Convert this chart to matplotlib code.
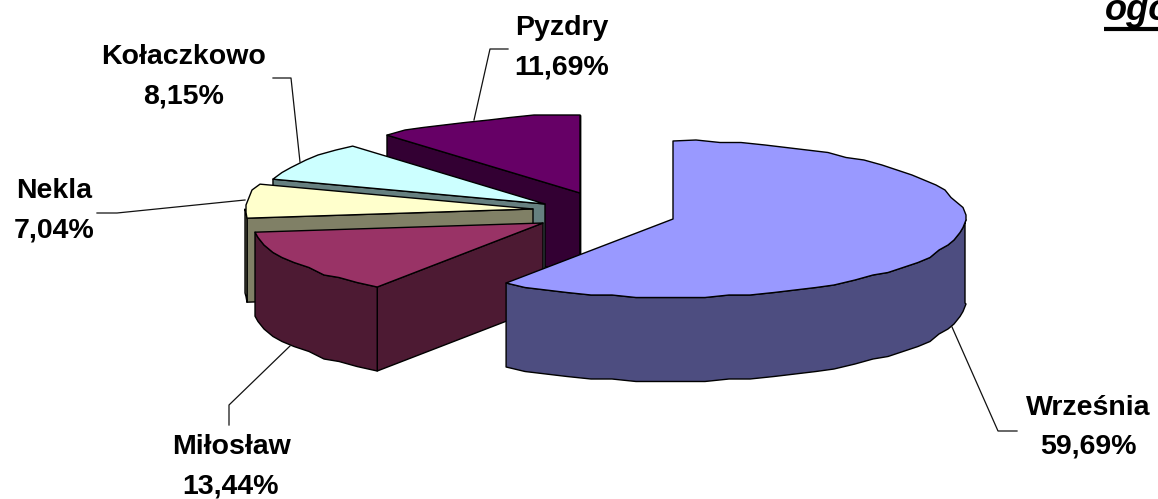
import numpy as np
import matplotlib
matplotlib.use("Agg")
import matplotlib.pyplot as plt
from matplotlib.patches import Polygon

categories = ["Września", "Miłosław", "Nekla", "Kołaczkowo", "Pyzdry"]
shares = [59.69, 13.44, 7.04, 8.15, 11.69]
value_labels = ["59,69%", "13,44%", "7,04%", "8,15%", "11,69%"]

# Styles / layout (pixel coordinates)
top_colors = ["#9999FF", "#993366", "#FFFFCC", "#CCFFFF", "#660066"]
side_colors = ["#4D4D80", "#4D1A33", "#808066", "#668080", "#330033"]
centers = [(673, 219), (543, 223), (533, 209), (545, 204), (580, 193)]
radii_x = [292, 290, 288, 287, 288]
RY, DEPTH = 78, 84
label_pos = [(1088, 408), (231, 447), (54, 191), (184, 57), (562, 28)]
leaders = [
    [(952, 327), (998, 431), (1017, 431)],
    [(290, 346), (229, 405), (229, 425)],
    [(245, 200), (117, 213), (97, 213)],
    [(300, 162), (291, 78), (273, 78)],
    [(474, 120), (490, 49), (508, 49)],
]
LINE_GAP = 39

fig = plt.figure(figsize=(11.58, 4.99), dpi=100, facecolor="white")
ax = fig.add_axes([0, 0, 1, 1])
ax.set_xlim(0, 1158)
ax.set_ylim(499, 0)
ax.axis("off")


def rim_point(cx, cy, rx, a):
    t = np.radians(a)
    return np.array([cx + rx * np.sin(t), cy - RY * np.cos(t)])


def rim(cx, cy, rx, a0, a1):
    """Coarse rim of a slice, snapped to a grid like the low-res original."""
    n = max(2, int((a1 - a0) / 4.5))
    ang = np.linspace(a0, a1, n + 1)
    pts = np.array([rim_point(cx, cy, rx, a) for a in ang])
    pts[1:-1, 0] = np.round(pts[1:-1, 0] / 3) * 3
    pts[1:-1, 1] = np.round(pts[1:-1, 1] / 2.5) * 2.5
    return ang, pts


edges = np.cumsum([0] + shares) / sum(shares) * 360
down = np.array([0, DEPTH])
# Back to front: Pyzdry, Kołaczkowo, Nekla, Miłosław, Września
for z, i in enumerate([4, 3, 2, 1, 0]):
    a0, a1 = edges[i], edges[i + 1]
    c = np.array(centers[i], float)
    rx = radii_x[i]
    ang, p = rim(c[0], c[1], rx, a0, a1)
    kw = dict(edgecolor="black", linewidth=1.0, joinstyle="round", zorder=z + 1)
    # radial face at the start edge, when facing the viewer
    if a0 > 180:
        ax.add_patch(Polygon([c, p[0], p[0] + down, c + down], closed=True,
                             facecolor=side_colors[i], **kw))
    # outer wall, front half of the rim only, sharing the top's rim points
    w0, w1 = max(a0, 90), min(a1, 270)
    if w1 > w0:
        inner = p[(ang > w0) & (ang < w1)]
        w = np.vstack([rim_point(c[0], c[1], rx, w0), inner,
                       rim_point(c[0], c[1], rx, w1)])
        ax.add_patch(Polygon(np.vstack([w, (w + down)[::-1]]), closed=True,
                             facecolor=side_colors[i], **kw))
    # radial face of the last slice, seen behind the others
    if a1 >= 360 - 1e-6:
        ax.add_patch(Polygon([c, p[-1], p[-1] + down, c + down], closed=True,
                             facecolor=side_colors[i], **kw))
    ax.add_patch(Polygon(np.vstack([c, p]), closed=True,
                         facecolor=top_colors[i], **kw))

for pts in leaders:
    pts = np.array(pts)
    ax.plot(pts[:, 0], pts[:, 1], color="#111111", lw=0.9, zorder=10)

font = dict(family="Liberation Sans", fontweight="bold", fontsize=20.5,
            ha="center", va="center", color="black", zorder=11)
for name, val, (x, y) in zip(categories, value_labels, label_pos):
    ax.text(x, y, name, **font)
    ax.text(x, y + LINE_GAP, val, **font)

ax.text(1105, 20, "ogó", family="Liberation Sans", fontweight="bold",
        fontstyle="italic", fontsize=26, ha="left", va="baseline", color="black",
        clip_on=True)
ax.plot([1104, 1158], [29, 29], color="black", lw=3, solid_capstyle="butt")

fig.savefig("out.png", dpi=100, facecolor="white")
